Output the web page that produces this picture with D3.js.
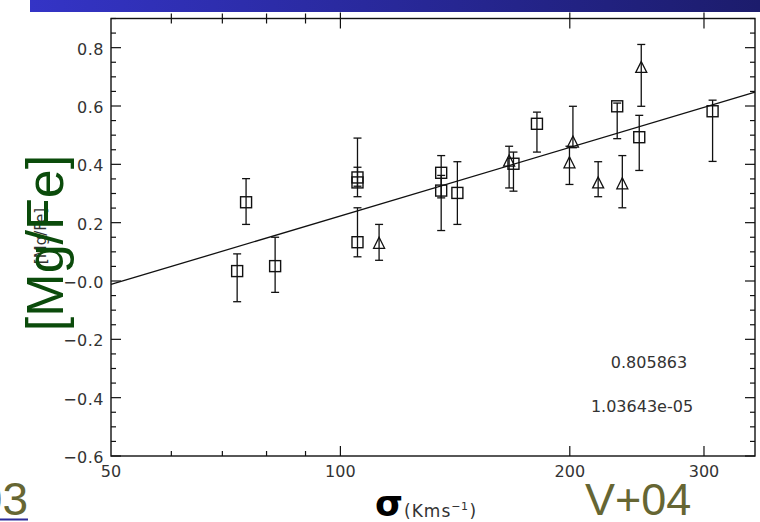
<!DOCTYPE html>
<html>
<head>
<meta charset="utf-8">
<script src="https://cdn.jsdelivr.net/npm/d3@7"></script>
<style>
  html, body { margin: 0; padding: 0; background: #fff; }
  svg { display: block; }
</style>
</head>
<body>
<svg id="chart" width="760" height="522"></svg>
<script>
// Velocity dispersion (km/s) vs [Mg/Fe] — squares
const squareSigma = [73.2, 75.2, 82.1, 105.3, 105.3, 105.3, 135.6, 135.6, 142.4, 168.7, 181.1, 230.8, 246.7, 307.9];
const squareMgFe  = [0.034, 0.270, 0.051, 0.355, 0.338, 0.133, 0.371, 0.310, 0.302, 0.402, 0.539, 0.599, 0.493, 0.582];
const squareLo    = [-0.071, 0.194, -0.039, 0.325, 0.289, 0.083, 0.285, 0.173, 0.194, 0.308, 0.442, 0.488, 0.379, 0.410];
const squareHi    = [0.093, 0.351, 0.150, 0.490, 0.390, 0.251, 0.430, 0.362, 0.409, 0.442, 0.579, 0.610, 0.568, 0.620];

// Triangles
const triangleSigma = [112.4, 166.5, 201.9, 199.8, 217.9, 234.4, 248.2];
const triangleMgFe  = [0.131, 0.413, 0.478, 0.407, 0.338, 0.335, 0.734];
const triangleLo    = [0.071, 0.319, 0.457, 0.331, 0.289, 0.251, 0.599];
const triangleHi    = [0.194, 0.462, 0.599, 0.462, 0.409, 0.430, 0.811];

// Linear fit in log10(sigma): [intercept, slope]
const fitCoeffs = [-1.337, 0.780];
const fitStats = ["0.805863", "1.03643e-05"];

// Axis ticks
const xMajorTicks = [100, 200, 300];
const xMinorTicks = [60, 70, 80, 90];
const xTickLabels = [50, 100, 200, 300];
const yMajorTicks = [-0.6, -0.4, -0.2, 0.0, 0.2, 0.4, 0.6, 0.8];
const yTickLabels = ["\u22120.6", "\u22120.4", "\u22120.2", "\u22120.0", "0.2", "0.4", "0.6", "0.8"];
const yMinorTicks = d3.range(-0.55, 0.9, 0.05).map(v => +v.toFixed(2)).filter(v => !yMajorTicks.some(m => Math.abs(m - v) < 1e-6));

const svg = d3.select("#chart");
const W = 760, H = 522;
const plot = { left: 111, right: 755, top: 18.5, bottom: 456 };

svg.append("rect").attr("width", W).attr("height", H).attr("fill", "#fff");

// header band
const defs = svg.append("defs");
const grad = defs.append("linearGradient").attr("id", "band").attr("x1", "0%").attr("x2", "100%");
grad.append("stop").attr("offset", "0%").attr("stop-color", "#3434c6");
grad.append("stop").attr("offset", "100%").attr("stop-color", "#1c1c6c");
svg.append("rect").attr("x", 30).attr("y", 0).attr("width", W - 30).attr("height", 12).attr("fill", "url(#band)");

const x = d3.scaleLog().domain([50, 350]).range([plot.left, plot.right]);
const y = d3.scaleLinear().domain([-0.6, 0.9]).range([plot.bottom, plot.top]);

const ink = "#111";
const textInk = "#333";
const g = svg.append("g");

// frame
g.append("rect")
  .attr("x", plot.left).attr("y", plot.top)
  .attr("width", plot.right - plot.left).attr("height", plot.bottom - plot.top)
  .attr("fill", "none").attr("stroke", ink).attr("stroke-width", 1.4);

const majorLen = 10, minorLen = 5;
// bottom + top ticks
xMajorTicks.forEach(v => {
  g.append("line").attr("x1", x(v)).attr("x2", x(v)).attr("y1", plot.bottom).attr("y2", plot.bottom - majorLen).attr("stroke", ink).attr("stroke-width", 1.2);
  g.append("line").attr("x1", x(v)).attr("x2", x(v)).attr("y1", plot.top - 6).attr("y2", plot.top + majorLen).attr("stroke", ink).attr("stroke-width", 1.2);
});
xMinorTicks.forEach(v => {
  g.append("line").attr("x1", x(v)).attr("x2", x(v)).attr("y1", plot.bottom).attr("y2", plot.bottom - minorLen).attr("stroke", ink).attr("stroke-width", 1.2);
  g.append("line").attr("x1", x(v)).attr("x2", x(v)).attr("y1", plot.top - 5).attr("y2", plot.top + minorLen).attr("stroke", ink).attr("stroke-width", 1.2);
});
// left + right ticks
yMajorTicks.forEach(v => {
  g.append("line").attr("x1", plot.left).attr("x2", plot.left + majorLen).attr("y1", y(v)).attr("y2", y(v)).attr("stroke", ink).attr("stroke-width", 1.2);
  g.append("line").attr("x1", plot.right).attr("x2", plot.right - majorLen).attr("y1", y(v)).attr("y2", y(v)).attr("stroke", ink).attr("stroke-width", 1.2);
});
yMinorTicks.forEach(v => {
  g.append("line").attr("x1", plot.left).attr("x2", plot.left + minorLen).attr("y1", y(v)).attr("y2", y(v)).attr("stroke", ink).attr("stroke-width", 1.2);
  g.append("line").attr("x1", plot.right).attr("x2", plot.right - minorLen).attr("y1", y(v)).attr("y2", y(v)).attr("stroke", ink).attr("stroke-width", 1.2);
});

// tick labels
const labelFont = "'DejaVu Sans', sans-serif";
xTickLabels.forEach(v => {
  g.append("text").attr("x", x(v)).attr("y", 477).attr("text-anchor", "middle")
    .attr("font-family", labelFont).attr("font-size", 16).attr("fill", textInk).text(v);
});
yMajorTicks.forEach((v, i) => {
  g.append("text").attr("x", 104).attr("y", y(v) + 7).attr("text-anchor", "end")
    .attr("font-family", labelFont).attr("font-size", 16).attr("fill", textInk)
    .attr("letter-spacing", 0.5).text(yTickLabels[i]);
});

// small axis title underneath the large one
svg.append("text")
  .attr("transform", "translate(46,236) rotate(-90)")
  .attr("text-anchor", "middle")
  .attr("font-family", labelFont).attr("font-size", 15).attr("fill", textInk)
  .text("[Mg/Fe]");

// fit line
const fitLine = d3.line().x(d => x(d)).y(d => y(fitCoeffs[0] + fitCoeffs[1] * Math.log10(d)));
g.append("path").datum([50, 350]).attr("d", fitLine).attr("fill", "none").attr("stroke", ink).attr("stroke-width", 1.3);

// error bars
function errorBars(sig, lo, hi) {
  const cap = 4;
  sig.forEach((s, i) => {
    const cx = x(s);
    g.append("line").attr("x1", cx).attr("x2", cx).attr("y1", y(lo[i])).attr("y2", y(hi[i])).attr("stroke", ink).attr("stroke-width", 1.3);
    g.append("line").attr("x1", cx - cap).attr("x2", cx + cap).attr("y1", y(lo[i])).attr("y2", y(lo[i])).attr("stroke", ink).attr("stroke-width", 1.3);
    g.append("line").attr("x1", cx - cap).attr("x2", cx + cap).attr("y1", y(hi[i])).attr("y2", y(hi[i])).attr("stroke", ink).attr("stroke-width", 1.3);
  });
}
errorBars(squareSigma, squareLo, squareHi);
errorBars(triangleSigma, triangleLo, triangleHi);

// squares
const sq = 11;
g.selectAll("rect.sq").data(squareSigma.map((s, i) => [s, squareMgFe[i]])).join("rect")
  .attr("class", "sq")
  .attr("x", d => x(d[0]) - sq / 2).attr("y", d => y(d[1]) - sq / 2)
  .attr("width", sq).attr("height", sq)
  .attr("fill", "none").attr("stroke", ink).attr("stroke-width", 1.4);

// triangles
const tw = 11, th = 11;
g.selectAll("path.tri").data(triangleSigma.map((s, i) => [s, triangleMgFe[i]])).join("path")
  .attr("class", "tri")
  .attr("d", d => {
    const cx = x(d[0]), cy = y(d[1]);
    return `M${cx},${cy - th / 2}L${cx + tw / 2},${cy + th / 2}L${cx - tw / 2},${cy + th / 2}Z`;
  })
  .attr("fill", "none").attr("stroke", ink).attr("stroke-width", 1.3);

// fit statistics
g.append("text").attr("x", 649).attr("y", 368).attr("text-anchor", "middle")
  .attr("font-family", labelFont).attr("font-size", 16).attr("fill", textInk).text(fitStats[0]);
g.append("text").attr("x", 642).attr("y", 411.5).attr("text-anchor", "middle")
  .attr("font-family", labelFont).attr("font-size", 16).attr("fill", textInk).text(fitStats[1]);

// x axis title
const xt = svg.append("text").attr("x", 375).attr("y", 516);
xt.append("tspan").attr("font-family", "'DejaVu Sans', sans-serif").attr("font-weight", "bold").attr("font-size", 36).attr("fill", "#000").text("\u03c3");
xt.append("tspan").attr("font-family", labelFont).attr("font-size", 17).attr("fill", textInk).attr("dy", 1).attr("dx", 1).attr("letter-spacing", 1).text("(Kms");
xt.append("tspan").attr("font-family", labelFont).attr("font-size", 11).attr("fill", textInk).attr("dy", -7).attr("letter-spacing", 0.5).text("\u22121");
xt.append("tspan").attr("font-family", labelFont).attr("font-size", 17).attr("fill", textInk).attr("dy", 7).attr("dx", 1).text(")");

// large axis title
svg.append("text")
  .attr("transform", "translate(63,243) rotate(-90)")
  .attr("text-anchor", "middle")
  .attr("font-family", "'Liberation Sans', Arial, sans-serif").attr("font-size", 52)
  .attr("fill", "#0b4b0b")
  .text("[Mg/Fe]");

// citation labels
svg.append("text").attr("x", 28).attr("y", 515).attr("text-anchor", "end")
  .attr("font-family", "'Liberation Sans', Arial, sans-serif").attr("font-size", 46)
  .attr("fill", "#666633").text("03");
svg.append("rect").attr("x", 0).attr("y", 518.5).attr("width", 28).attr("height", 2).attr("fill", "#2b2b9a");
svg.append("text").attr("x", 585).attr("y", 515).attr("text-anchor", "start")
  .attr("font-family", "'Liberation Sans', Arial, sans-serif").attr("font-size", 45)
  .attr("fill", "#666633").text("V+04");
</script>
</body>
</html>
